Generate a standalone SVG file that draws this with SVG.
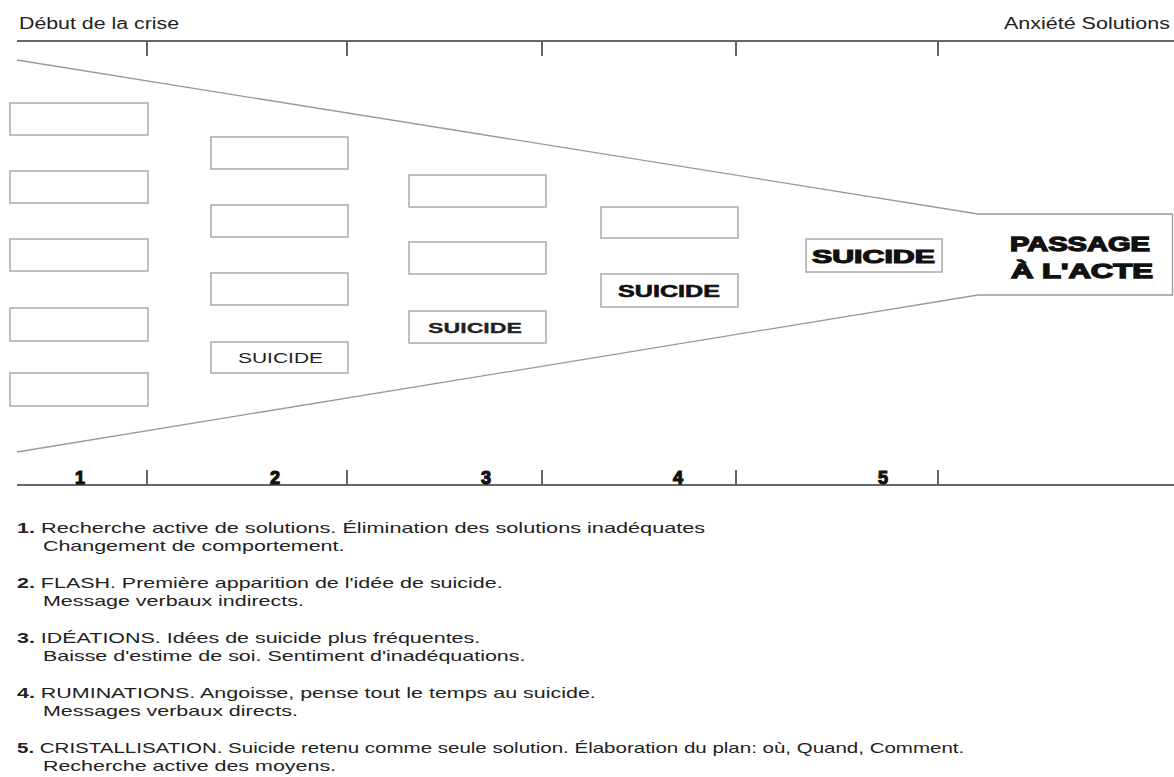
<svg xmlns="http://www.w3.org/2000/svg" width="1174" height="777" viewBox="0 0 1174 777">
<style>
.bx{fill:#fff;stroke:#aaa;stroke-width:1.5}
.ax{stroke:#666;stroke-width:2;fill:none}
.fn{stroke:#999;stroke-width:1.3;fill:none}
.t{font-family:"Liberation Sans",Arial,sans-serif;fill:#222}
.hd{font-size:16px}
.lg{font-size:14.5px}
.num{font-size:18px;font-weight:bold;fill:#111;stroke:#111;stroke-width:1.2}
.hv{font-weight:bold;fill:#111;stroke:#111}
</style>
<rect width="1174" height="777" fill="#fff"/>
<g id="axes">
<path class="ax" d="M17 41H1174M147 41V56M347 41V56M542 41V56M736 41V56M938 41V56"/>
<path class="ax" d="M17 485H1174M147 470V485M347 470V485M542 470V485M736 470V485M938 470V485"/>
<text class="t hd" x="19" y="29" textLength="160" lengthAdjust="spacingAndGlyphs">Début de la crise</text>
<text class="t hd" x="1004" y="29" textLength="166" lengthAdjust="spacingAndGlyphs">Anxiété Solutions</text>
</g>
<g id="connectors">
<path class="fn" d="M17 60L978 214H1173M17 452L978 295H1173"/>
<path class="fn" d="M1172.5 214V295"/>
</g>
<g id="col1">
<rect class="bx" x="10" y="103" width="138" height="32"/>
<rect class="bx" x="10" y="171" width="138" height="32"/>
<rect class="bx" x="10" y="239" width="138" height="32"/>
<rect class="bx" x="10" y="308" width="138" height="33"/>
<rect class="bx" x="10" y="373" width="138" height="33"/>
</g>
<g id="col2">
<rect class="bx" x="211" y="137" width="137" height="32"/>
<rect class="bx" x="211" y="205" width="137" height="32"/>
<rect class="bx" x="211" y="273" width="137" height="32"/>
<rect class="bx" x="211" y="342" width="137" height="31"/>
<text class="t" x="238" y="363" font-size="15" textLength="85" lengthAdjust="spacingAndGlyphs">SUICIDE</text>
</g>
<g id="col3">
<rect class="bx" x="409" y="175" width="137" height="32"/>
<rect class="bx" x="409" y="242" width="137" height="32"/>
<rect class="bx" x="409" y="311" width="137" height="32"/>
<text class="t" x="428" y="333" font-size="15.5" font-weight="bold" stroke="#222" stroke-width="0.3" textLength="94" lengthAdjust="spacingAndGlyphs">SUICIDE</text>
</g>
<g id="col4">
<rect class="bx" x="601" y="207" width="137" height="31"/>
<rect class="bx" x="601" y="274" width="137" height="33"/>
<text class="t hv" x="618" y="297" font-size="17" stroke-width="0.6" textLength="102" lengthAdjust="spacingAndGlyphs">SUICIDE</text>
</g>
<g id="col5">
<rect class="bx" x="806" y="239" width="136" height="33"/>
<text class="t hv" x="812" y="263" font-size="18" stroke-width="1.1" textLength="123" lengthAdjust="spacingAndGlyphs">SUICIDE</text>
</g>
<g id="passage">
<text class="t hv" x="1010" y="251" font-size="20" stroke-width="1.3" textLength="140" lengthAdjust="spacingAndGlyphs">PASSAGE</text>
<text class="t hv" x="1011" y="278" font-size="20" stroke-width="1.3" textLength="142" lengthAdjust="spacingAndGlyphs">À L'ACTE</text>
</g>
<g id="numbers">
<text class="t num" x="80" y="484" text-anchor="middle">1</text>
<text class="t num" x="275" y="484" text-anchor="middle">2</text>
<text class="t num" x="486" y="484" text-anchor="middle">3</text>
<text class="t num" x="678" y="484" text-anchor="middle">4</text>
<text class="t num" x="883" y="484" text-anchor="middle">5</text>
</g>
<g id="legend" class="t lg" transform="scale(1.48,1)">
<text x="11.5" y="533" textLength="465" lengthAdjust="spacingAndGlyphs"><tspan font-weight="bold">1.</tspan> Recherche active de solutions. Élimination des solutions inadéquates</text>
<text x="29" y="551">Changement de comportement.</text>
<text x="11.5" y="588"><tspan font-weight="bold">2.</tspan> FLASH. Première apparition de l'idée de suicide.</text>
<text x="29" y="606">Message verbaux indirects.</text>
<text x="11.5" y="643"><tspan font-weight="bold">3.</tspan> IDÉATIONS. Idées de suicide plus fréquentes.</text>
<text x="29" y="661">Baisse d'estime de soi. Sentiment d'inadéquations.</text>
<text x="11.5" y="698"><tspan font-weight="bold">4.</tspan> RUMINATIONS. Angoisse, pense tout le temps au suicide.</text>
<text x="29" y="716">Messages verbaux directs.</text>
<text x="11.5" y="753" textLength="640" lengthAdjust="spacingAndGlyphs"><tspan font-weight="bold">5.</tspan> CRISTALLISATION. Suicide retenu comme seule solution. Élaboration du plan: où, Quand, Comment.</text>
<text x="29" y="771">Recherche active des moyens.</text>
</g>
</svg>
